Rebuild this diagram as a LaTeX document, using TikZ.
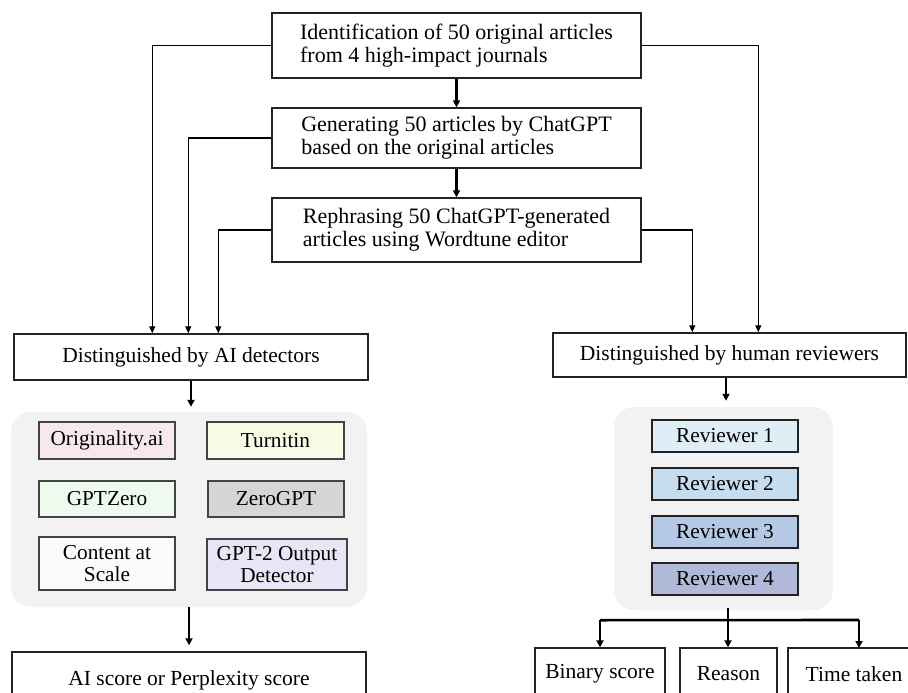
\documentclass[tikz,border=0pt]{standalone}
\usepackage{fontspec}
\setmainfont{Liberation Serif}
\usetikzlibrary{arrows.meta,calc}
\definecolor{cpink}{HTML}{F7E8EF}
\definecolor{cyell}{HTML}{F8FAE6}
\definecolor{cgreen}{HTML}{EFFAEF}
\definecolor{cgray}{HTML}{D6D6D6}
\definecolor{cwhite}{HTML}{FDFAFD}
\definecolor{clav}{HTML}{E6E6F7}
\definecolor{rone}{HTML}{DFEDF6}
\definecolor{rtwo}{HTML}{C6DCEF}
\definecolor{rthree}{HTML}{B5C9E6}
\definecolor{rfour}{HTML}{B1B9D8}
\definecolor{panelgray}{HTML}{F2F2F2}
\definecolor{edge}{HTML}{222222}
\tikzset{
  mainbox/.style={draw=edge, line width=1.4pt, fill=white, inner sep=0pt, font=\fontsize{21.5}{23}\selectfont},
  topbox/.style={mainbox, align=left, font=\fontsize{22}{22.7}\selectfont},
  toolbox/.style={draw=edge!85, line width=1.4pt, inner sep=0pt, align=center, font=\fontsize{21.3}{22}\selectfont},
  panel/.style={fill=panelgray, rounded corners=20pt, inner sep=0pt, draw=none},
  thinarr/.style={line width=1.3pt, -{Triangle[length=7pt,width=6pt]}},
  thickarr/.style={line width=2.6pt, -{Triangle[length=7pt,width=7pt]}},
}
\begin{document}
\begin{tikzpicture}[x=1pt,y=-1pt]
\useasboundingbox (0,0) rectangle (908,693);
\clip (0,0) rectangle (908,693);

% top chain
\node[topbox, minimum width=369pt, minimum height=65pt] (b1) at (456.5,45.5)
  {Identification of 50 original articles\\from 4 high-impact journals};
\node[topbox, minimum width=369pt, minimum height=60pt] (b2) at (456.5,138)
  {Generating 50 articles by ChatGPT\\based on the original articles};
\node[topbox, minimum width=369pt, minimum height=64pt] (b3) at (456.5,230)
  {Rephrasing 50 ChatGPT-generated\\articles using Wordtune editor};

% second level
\node[mainbox, minimum width=354pt, minimum height=46pt] (aidet) at (191,357) {Distinguished by AI detectors};
\node[mainbox, minimum width=353pt, minimum height=44pt] (hum) at (729.5,355) {Distinguished by human reviewers};

% panels
\node[panel, minimum width=356pt, minimum height=195pt] (lpanel) at (189,509.5) {};
\node[panel, minimum width=219pt, minimum height=203pt] (rpanel) at (723.5,508.5) {};

% tools
\node[toolbox, fill=cpink, minimum width=136pt, minimum height=37pt] (orig) at (107,440.5) {Originality.ai};
\node[toolbox, fill=cyell, minimum width=137pt, minimum height=37pt] (turn) at (275.5,440.5) {Turnitin};
\node[toolbox, fill=cgreen, minimum width=136pt, minimum height=36pt] (gptz) at (107,499) {GPTZero};
\node[toolbox, fill=cgray, minimum width=136pt, minimum height=36pt] (zgpt) at (276,499) {ZeroGPT};
\node[toolbox, fill=cwhite, minimum width=136pt, minimum height=53pt] (cas) at (107,563.5) {Content at\\Scale};
\node[toolbox, fill=clav, minimum width=140pt, minimum height=51pt] (gpt2) at (277,564.5) {GPT-2 Output\\Detector};

% reviewers
\node[toolbox, draw=edge, fill=rone, minimum width=146pt, minimum height=32pt] (r1) at (725,436) {Reviewer 1};
\node[toolbox, draw=edge, fill=rtwo, minimum width=146pt, minimum height=32pt] (r2) at (725,484) {Reviewer 2};
\node[toolbox, draw=edge, fill=rthree, minimum width=146pt, minimum height=32pt] (r3) at (725,532) {Reviewer 3};
\node[toolbox, draw=edge, fill=rfour, minimum width=146pt, minimum height=32pt] (r4) at (725,579) {Reviewer 4};

% bottom outputs
\node[mainbox, minimum width=354pt, minimum height=56pt] (score) at (189,680) {AI score or Perplexity score};
\node[mainbox, minimum width=130pt, minimum height=52pt] (bin) at (600,674) {Binary score};
\node[mainbox, minimum width=97pt, minimum height=52pt] (reas) at (728.5,674) {Reason};
\node[mainbox, minimum width=132pt, minimum height=52pt] (time) at (854,674) {Time taken};

% main chain arrows
\draw[thickarr] (b1.south) -- (b2.north);
\draw[thickarr] (b2.south) -- (b3.north);

% side connectors
\draw[thinarr] (b1.west) -| ($(aidet.north west)+(139,0)$);
\draw[thinarr] (b2.west) -| ($(aidet.north west)+(175,0)$);
\draw[thinarr] (b3.west) -| ($(aidet.north west)+(205,0)$);
\draw[thinarr] (b1.east) -| ($(hum.north west)+(206,0)$);
\draw[thinarr] (b3.east) -| ($(hum.north west)+(140,0)$);

% down arrows
\draw[thickarr, line width=2pt, shorten >=5pt] (aidet.south) -- (aidet.south |- lpanel.north);
\draw[thickarr, line width=2pt, shorten >=6pt] (lpanel.south) -- (lpanel.south |- score.north);
\draw[thickarr, line width=2pt, shorten >=6pt] ($(hum.south)+(-3.5,0)$) -- ($(hum.south |- rpanel.north)+(-3.5,0)$);

% branching
\coordinate (br) at ($(rpanel.south)+(4.5,-2)$);
\coordinate (bj) at ($(br)+(0,12)$);
\draw[line width=2.6pt] (br) -- (bj);
\draw[line width=2.6pt] (bin.north |- bj) -- (859,620);
\draw[thickarr] (bin.north |- bj) -- (bin.north);
\draw[thickarr] (bj) -- (bj |- reas.north);
\draw[thickarr] (859,620) -- (859,648);
\end{tikzpicture}
\end{document}
